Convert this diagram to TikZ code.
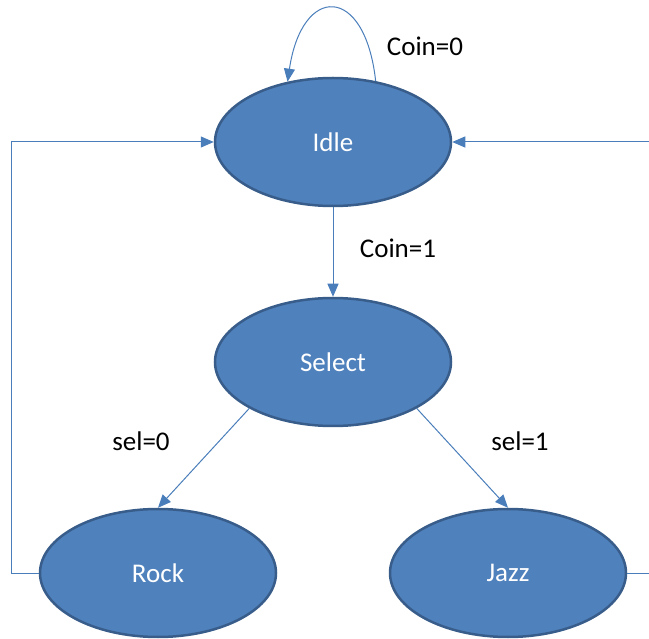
\documentclass[tikz,border=0pt]{standalone}
\usepackage{fontspec}
\setmainfont{Carlito}
\usetikzlibrary{shapes.geometric,arrows.meta}
\definecolor{statefill}{HTML}{4F81BD}
\definecolor{stateedge}{HTML}{385D8A}
\definecolor{wire}{HTML}{4A7EBB}
\tikzset{
  state/.style={ellipse, fill=statefill, draw=stateedge, line width=2.5pt,
    minimum width=236pt, minimum height=128pt, inner sep=0pt,
    text=white, font=\fontsize{27}{32}\selectfont},
  wirearrow/.style={draw=wire, line width=1pt,
    -{Triangle[length=13pt,width=11pt,fill=wire]}},
  wireplain/.style={draw=wire, line width=1pt},
  tag/.style={font=\fontsize{27}{32}\selectfont, text=black, inner sep=0pt}
}
\begin{document}
\begin{tikzpicture}[x=1pt,y=-1pt]
  \useasboundingbox (0,0) rectangle (649,639);

  % states
  \node[state] (idle)   at (333,142) {Idle};
  \node[state] (select) at (333,362) {Select};
  \node[state] (rock)   at (158,573) {Rock};
  \node[state] (jazz)   at (508,573) {Jazz};

  % self loop on Idle
  \draw[wirearrow] (idle.55) .. controls (365,-16) and (302,-16) .. (idle.127);
  \node[tag] (c0) at (425,46) {Coin=0};

  % Idle -> Select
  \draw[wirearrow] (idle.south) -- (select.north);
  \node[tag] (c1) at (398,248) {Coin=1};

  % Select -> Rock / Jazz
  \draw[wirearrow] (select.209) -- (rock.north);
  \draw[wirearrow] (select.331) -- (jazz.north);
  \node[tag] (s0) at (141,441) {sel=0};
  \node[tag] (s1) at (520,441) {sel=1};

  % return from Rock to Idle
  \draw[wirearrow] (rock.west) -- ++(-27,0) |- (idle.west);

  % return lines leaving through the right edge
  \coordinate (retin)  at (649,142);
  \coordinate (retout) at (649,573);
  \draw[wirearrow] (retin) -- (idle.east);
  \draw[wireplain] (jazz.east) -- (retout);
\end{tikzpicture}
\end{document}
